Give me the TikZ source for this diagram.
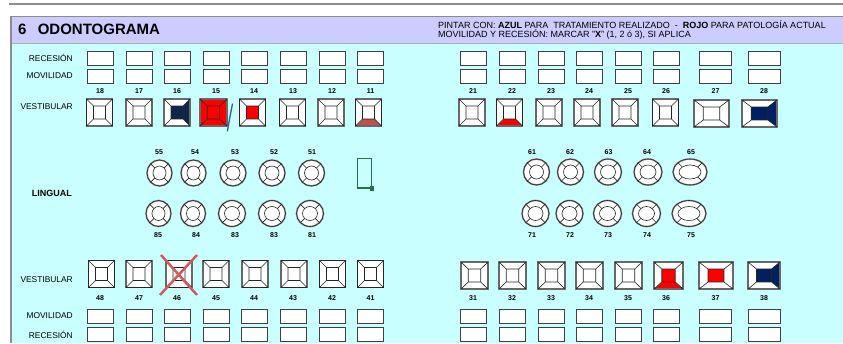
\documentclass[tikz,border=0pt]{standalone}
\usepackage{fontspec}
\setmainfont{Liberation Sans}
\usepackage{xcolor}
\usepackage{tikz}
\usetikzlibrary{arrows.meta, positioning}

\definecolor{bodycyan}{HTML}{C9FFFF}
\definecolor{headlilac}{HTML}{CCCCFF}
\definecolor{framegrey}{HTML}{8C8C8C}
\definecolor{toothnavy}{HTML}{0F2548}
\definecolor{toothnavyb}{HTML}{002060}
\definecolor{toothbrown}{HTML}{C0504D}
\definecolor{crossred}{HTML}{D05A5A}
\definecolor{penblue}{HTML}{3A5BA8}
\definecolor{cellgreen}{HTML}{217346}

% tooth: #1 centre, #2 half width, #3 colours centre/top/right/bottom/left
\newcommand{\tooth}[3]{%
  \begin{scope}[shift={(#1)}]
    \foreach \cc/\ct/\cr/\cb/\cl in {#3}{
      \pgfmathsetmacro{\hw}{#2}
      \pgfmathsetmacro{\iw}{6+(#2-13)*0.5}
      \fill[\ct] (-\hw,-13.5) -- (\hw,-13.5) -- (\iw,-6.5) -- (-\iw,-6.5) -- cycle;
      \fill[\cr] (\hw,-13.5) -- (\hw,13.5) -- (\iw,6.5) -- (\iw,-6.5) -- cycle;
      \fill[\cb] (-\hw,13.5) -- (\hw,13.5) -- (\iw,6.5) -- (-\iw,6.5) -- cycle;
      \fill[\cl] (-\hw,-13.5) -- (-\hw,13.5) -- (-\iw,6.5) -- (-\iw,-6.5) -- cycle;
      \fill[\cc] (-\iw,-6.5) rectangle (\iw,6.5);
      \draw[framegrey, line width=1.4pt] (-\hw,-13.5) rectangle (\hw,13.5);
      \draw[tline] (-\hw,-13.5) rectangle (\hw,13.5) (-\iw,-6.5) rectangle (\iw,6.5)
        (-\hw,-13.5) -- (-\iw,-6.5) (\hw,-13.5) -- (\iw,-6.5)
        (\hw,13.5) -- (\iw,6.5) (-\hw,13.5) -- (-\iw,6.5);
    }
  \end{scope}}

% primary tooth: #1 centre, #2 half width
\newcommand{\milktooth}[2]{%
  \begin{scope}[shift={(#1)}]
    \pgfmathsetmacro{\ow}{#2}
    \pgfmathsetmacro{\iw}{#2-6}
    \draw[framegrey, line width=1.6pt, fill=white] (0,0) ellipse [x radius=\ow, y radius=13];
    \draw[tline] (0,0) ellipse [x radius=\ow, y radius=13];
    \draw[tline, fill=white] (0,0) ellipse [x radius=\iw, y radius=7];
    \foreach \a in {45,135,225,315}
      \draw[tline] ({\iw*cos(\a)},{7*sin(\a)}) -- ({\ow*cos(\a)},{13*sin(\a)});
  \end{scope}}

\begin{document}
\begin{tikzpicture}[x=1pt, y=-1pt,
  every node/.style={font=\fontsize{8.4}{9}\selectfont, inner sep=0pt},
  rowlabel/.style={anchor=east},
  num/.style={font=\fontsize{7}{8}\selectfont\bfseries},
  hint/.style={anchor=west, font=\fontsize{9}{10}\selectfont},
  cell/.style={draw=black!75, fill=white, line width=0.9pt, minimum height=14pt, minimum width=26pt},
  widecell/.style={cell, minimum width=32pt},
  tline/.style={black!85, line width=0.6pt}
]

% --- Sheet and header band ---
\useasboundingbox (0,0) rectangle (843,343);
\fill[bodycyan] (10,43) rectangle (843,343);
\fill[headlilac] (10,16) rectangle (843,43);
\draw[framegrey, line width=1.5pt] (9,4) -- (843,4);
\draw[framegrey, line width=0.8pt] (10,16.5) -- (843,16.5);
\draw[framegrey!70, line width=0.6pt] (10,43) -- (843,43);
\draw[framegrey, line width=2pt] (11,16) -- (11,343);

\node[anchor=west, font=\fontsize{15}{16}\selectfont\bfseries] (title) at (18,29.5) {6\hspace{0.75em}ODONTOGRAMA};
\node[hint] (hint1) at (438,24.5) {PINTAR CON: \textbf{AZUL} PARA\ \ TRATAMIENTO REALIZADO\ \ -\ \ \textbf{ROJO} PARA PATOLOGÍA ACTUAL};
\node[hint] (hint2) at (438,35) {MOVILIDAD Y RECESIÓN: MARCAR "\textbf{X}" (1, 2 ó 3), SI APLICA};

% --- Row labels ---
\node[rowlabel] (recT) at (73,58) {RECESIÓN};
\node[rowlabel] (movT) at (73,76) {MOVILIDAD};
\node[rowlabel] (vesT) at (73,106.5) {VESTIBULAR};
\node[rowlabel, font=\fontsize{9}{10}\selectfont\bfseries] (lin) at (72,193) {LINGUAL};
\node[rowlabel] (vesB) at (73,280) {VESTIBULAR};
\node[rowlabel] (movB) at (73,316) {MOVILIDAD};
\node[rowlabel] (recB) at (73,334.5) {RECESIÓN};

% --- Upper boxes ---
\foreach \x/\n in {100/18, 139/17, 177/16, 216/15, 254/14, 293/13, 332/12, 370.5/11,
                   473/21, 512/22, 551/23, 589/24, 628/25, 666/26}{
  \node[cell] (rec\n) at (\x,58) {};
  \node[cell] (mov\n) at (\x,76) {};
  \node[num] (n\n) at (\x,91) {\n};
}
\foreach \x/\n in {715.5/27, 764/28}{
  \node[widecell] (rec\n) at (\x,58) {};
  \node[widecell] (mov\n) at (\x,76) {};
  \node[num] (n\n) at (\x,91) {\n};
}

% --- Lower boxes ---
\foreach \x/\n in {100/48, 139/47, 177/46, 216/45, 254/44, 293/43, 332/42, 370.5/41,
                   473/31, 512/32, 551/33, 589/34, 628/35, 666/36}{
  \node[num] (n\n) at (\x,298) {\n};
  \node[cell] (mov\n) at (\x,316) {};
  \node[cell] (rec\n) at (\x,334.5) {};
}
\foreach \x/\n in {715.5/37, 764/38}{
  \node[num] (n\n) at (\x,298) {\n};
  \node[widecell] (mov\n) at (\x,316) {};
  \node[widecell] (rec\n) at (\x,334.5) {};
}

% --- Upper vestibular ---
\tooth{99.5,112.5}{13}{white/white/white/white/white}
\tooth{139,112.5}{13}{white/white/white/white/white}
\tooth{177,112.5}{13}{toothnavy/white/toothnavy/white/white}
\tooth{213.5,112.5}{13.5}{red/red/red/red/red}
\tooth{252.5,112.5}{13}{red/white/white/white/white}
\tooth{292.5,112.5}{13}{white/white/white/white/white}
\tooth{331,112.5}{13}{white/white/white/white/white}
\tooth{368.5,112.5}{13}{white/white/white/toothbrown/white}
\tooth{472,112.5}{13}{white/white/white/white/white}
\tooth{509.5,112.5}{13}{white/white/white/red/white}
\tooth{549,112.5}{13}{white/white/white/white/white}
\tooth{587,112.5}{13}{white/white/white/white/white}
\tooth{625,112.5}{13}{white/white/white/white/white}
\tooth{665.5,112.5}{13}{white/white/white/white/white}
\tooth{711.5,113.5}{17.5}{white/white/white/white/white}
\tooth{759.5,113.5}{17.5}{toothnavyb/white/toothnavyb/white/white}

% pen stroke on 15
\draw[penblue, line width=1.3pt, line cap=round] (232.5,104) .. controls (230,116) .. (227.5,131);

% --- Primary teeth ---
\foreach \x/\n in {159/55, 195/54, 235/53, 274/52, 312/51, 532/61, 570/62, 608.5/63, 647/64, 691/65}
  \node[num] (n\n) at (\x,152) {\n};
\foreach \x/\n/\m in {158/85/1, 196/84/2, 235/83/3, 274/83/4, 312/81/5, 532/71/6, 570/72/7, 608/73/8, 647/74/9, 691/75/10}
  \node[num] (m\m) at (\x,235) {\n};

\milktooth{159.5,173}{12.5}
\milktooth{193.5,173}{12.5}
\milktooth{233,173}{13}
\milktooth{272,173}{13}
\milktooth{311.5,173}{13}
\milktooth{536.5,172}{13}
\milktooth{570.5,172}{13}
\milktooth{608,172}{13.5}
\milktooth{648,172}{14}
\milktooth{690,172}{17}

\milktooth{158.5,213.5}{12.5}
\milktooth{193,213.5}{12.5}
\milktooth{232,213.5}{13.5}
\milktooth{272,213.5}{13.5}
\milktooth{310,213.5}{13.5}
\milktooth{535.5,213.5}{13.5}
\milktooth{569.5,213.5}{13.5}
\milktooth{607.5,213.5}{14}
\milktooth{646.5,213.5}{14}
\milktooth{689,213.5}{17}

% selected cell marker
\draw[cellgreen, line width=1.2pt] (357.5,158.5) rectangle (371.5,188);
\fill[cellgreen] (369.5,186) rectangle (374,190.5);

% --- Lower vestibular ---
\tooth{101.5,274}{13}{white/white/white/white/white}
\tooth{139,274}{13}{white/white/white/white/white}
\tooth{179,274}{13}{white/white/white/white/white}
\tooth{216,274}{13}{white/white/white/white/white}
\tooth{255,274}{13}{white/white/white/white/white}
\tooth{294,274}{13}{white/white/white/white/white}
\tooth{332.5,274}{13}{white/white/white/white/white}
\tooth{370.5,274}{13}{white/white/white/white/white}
\tooth{474.5,275.5}{13.5}{white/white/white/white/white}
\tooth{512.5,275.5}{13.5}{white/white/white/white/white}
\tooth{551.5,275.5}{13.5}{white/white/white/white/white}
\tooth{589.5,275.5}{13.5}{white/white/white/white/white}
\tooth{628.5,275.5}{13.5}{white/white/white/white/white}
\tooth{668.5,275.5}{14.5}{red/white/white/red/white}
\tooth{716,275.5}{17}{red/white/white/white/white}
\tooth{764,275.5}{16}{toothnavyb/white/toothnavyb/white/white}

% extraction mark on 46
\draw[crossred, line width=2.5pt] (161,255) -- (197,295) (197,255) -- (160,295);

\end{tikzpicture}
\end{document}
